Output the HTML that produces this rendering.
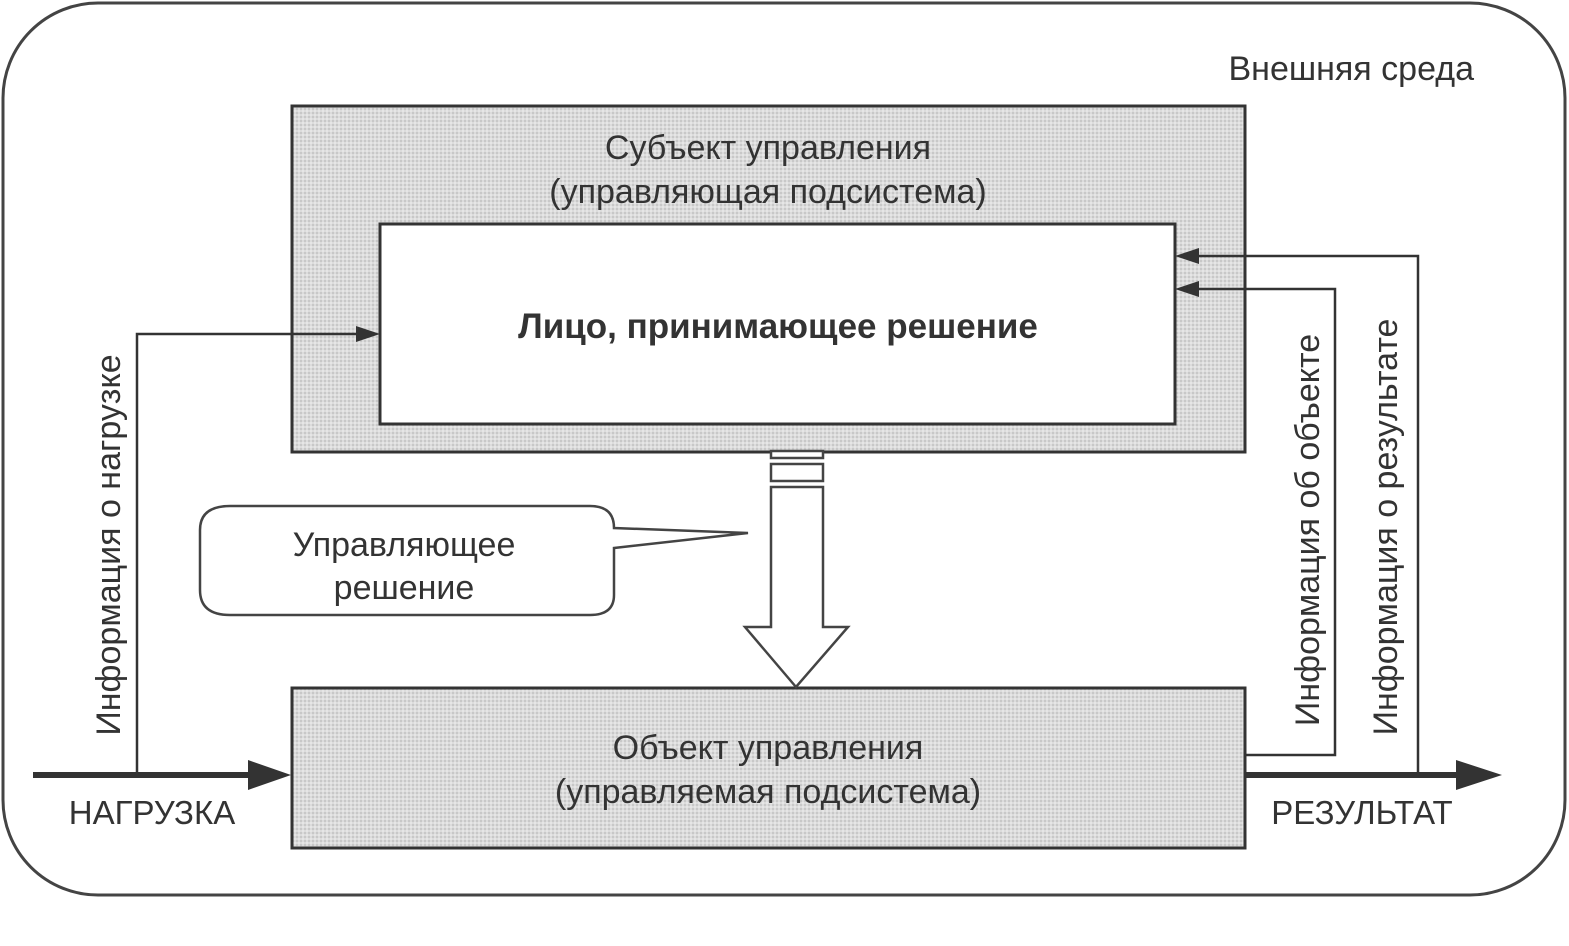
<!DOCTYPE html>
<html><head><meta charset="utf-8"><style>
html,body{margin:0;padding:0;background:#fff;width:1569px;height:946px;overflow:hidden}
svg text{font-family:"Liberation Sans","DejaVu Sans",sans-serif;fill:#333}
</style></head><body>
<svg width="1569" height="946" viewBox="0 0 1569 946" xmlns="http://www.w3.org/2000/svg">
<defs>
<pattern id="g" width="4" height="4" patternUnits="userSpaceOnUse">
<rect width="4" height="4" fill="#dcdcdc"/><rect width="2" height="2" fill="#c8c8c8"/><rect x="2" y="2" width="2" height="2" fill="#e6e6e6"/>
</pattern>
</defs>
<rect x="3" y="3" width="1562" height="892" rx="95" fill="#fff" stroke="#444" stroke-width="3"/>
<text x="1474" y="80" font-size="34" text-anchor="end">Внешняя среда</text>
<rect x="292" y="106" width="953" height="346" fill="url(#g)" stroke="#333" stroke-width="3"/>
<text x="768" y="159" font-size="34" text-anchor="middle">Субъект управления</text>
<text x="768" y="203" font-size="34" text-anchor="middle">(управляющая подсистема)</text>
<rect x="380" y="224" width="795" height="200" fill="#fff" stroke="#333" stroke-width="3"/>
<text x="778" y="338" font-size="35" font-weight="bold" text-anchor="middle">Лицо, принимающее решение</text>
<rect x="292" y="688" width="953" height="160" fill="url(#g)" stroke="#333" stroke-width="3"/>
<text x="768" y="759" font-size="34" text-anchor="middle">Объект управления</text>
<text x="768" y="803" font-size="34" text-anchor="middle">(управляемая подсистема)</text>
<g fill="#fff" stroke="#444" stroke-width="2.5">
<rect x="771" y="451" width="52" height="7"/>
<rect x="771" y="464" width="52" height="17"/>
<path d="M771 487 H823 V627 H848 L796 687 L745 627 H771 Z"/>
</g>
<path d="M230 506 H590 Q614 506 614 528 L748 533 L614 548 V595 Q614 615 590 615 H230 Q200 615 200 590 V530 Q200 506 230 506 Z" fill="#fff" stroke="#444" stroke-width="2.5"/>
<text x="404" y="556" font-size="34" text-anchor="middle">Управляющее</text>
<text x="404" y="599" font-size="34" text-anchor="middle">решение</text>
<g stroke="#333" fill="none">
<line x1="33" y1="775" x2="255" y2="775" stroke-width="6"/>
<line x1="1245" y1="775" x2="1462" y2="775" stroke-width="6"/>
<polyline points="137,775 137,334 360,334" stroke-width="2.5"/>
<polyline points="1245,755 1335,755 1335,289 1195,289" stroke-width="2.5"/>
<polyline points="1418,775 1418,256 1195,256" stroke-width="2.5"/>
</g>
<g fill="#333">
<polygon points="248,760 291,775 248,790"/>
<polygon points="1456,760 1502,775 1456,790"/>
<polygon points="380,334 356,326 356,342"/>
<polygon points="1175,289 1199,281 1199,297"/>
<polygon points="1175,256 1199,248 1199,264"/>
</g>
<text x="152" y="824" font-size="33" text-anchor="middle">НАГРУЗКА</text>
<text x="1362" y="824" font-size="33" text-anchor="middle">РЕЗУЛЬТАТ</text>
<text transform="translate(120,545) rotate(-90)" font-size="34" text-anchor="middle">Информация о нагрузке</text>
<text transform="translate(1319,530) rotate(-90)" font-size="34" text-anchor="middle">Информация об объекте</text>
<text transform="translate(1397,527) rotate(-90)" font-size="34" text-anchor="middle">Информация о результате</text>
<text x="140" y="982" font-size="44" font-weight="bold">Схема 1. Процесс управления</text>
</svg>
</body></html>
